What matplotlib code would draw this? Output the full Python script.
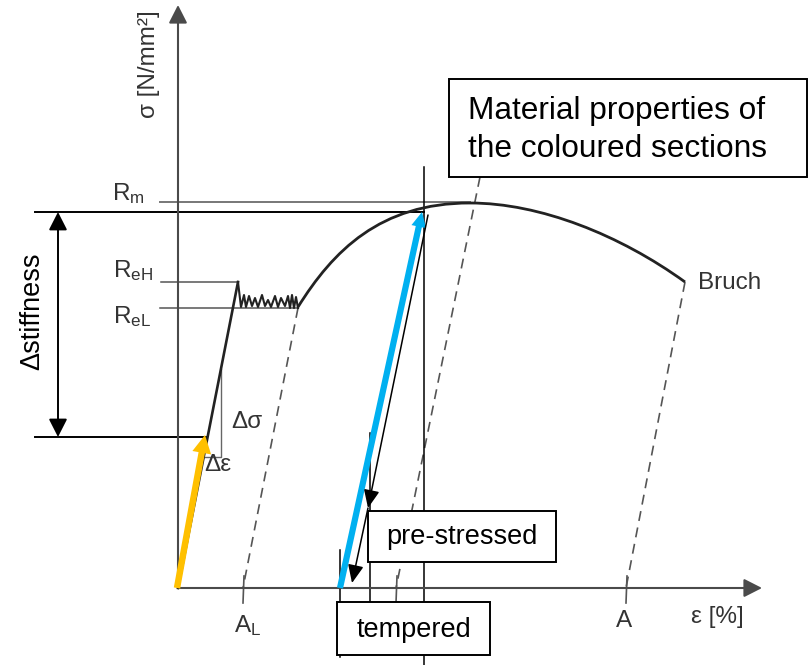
import matplotlib
matplotlib.use("Agg")
import matplotlib.pyplot as plt
from matplotlib.patches import FancyArrowPatch, Rectangle, PathPatch, ArrowStyle
from matplotlib.path import Path

plt.rcParams['font.family'] = ['Liberation Sans', 'DejaVu Sans']
plt.rcParams['mathtext.default'] = 'regular'

# ---- schematic stress-strain values (strain units, stress units) ----
R_M = 385          # tensile strength (curve maximum)
R_EH = 306         # upper yield strength
R_EL = 280         # lower yield strength
STIFF_TOP = 376    # upper level of the stiffness span
STIFF_BOT = 151    # lower level of the stiffness span
A_L = 65           # Lüders strain
A_BREAK = 448      # elongation after fracture
BREAK = (507, 306) # fracture point

# elastic line up to upper yield point
elastic_eps = [0, 60]
elastic_sig = [0, R_EH]

# serrated yield plateau
yield_eps = [60, 63, 66, 68, 71, 74, 77, 80, 84, 87, 90, 93, 97, 100, 103, 107,
             110, 112, 114, 116, 118, 120]
yield_sig = [306, 281, 293, 281, 292, 282, 290, 281, 293, 282, 288, 281, 292, 281,
             290, 282, 292, 280, 293, 280, 291, 280]

# hardening curve (cubic Bezier control points) up to Rm and down to fracture
harden_ctrl = [(120, 281), (155, 337), (202, 385), (292, 385)]
necking_ctrl = [(292, 385), (362, 385), (442, 353), (507, 306)]

# unloading lines (dashed)
unload_lines = [((120, 280), (A_L, 0)),
                ((302, 411), (218, 0)),
                (BREAK, (A_BREAK, 0))]

# coloured sections
yellow_arrow = ((-1, 0), (27, 153))
blue_arrow = ((162, 0), (244, 376))
# unloading path arrows
unload_arrow_1 = ((250, 373), (190, 80))
unload_arrow_2 = ((190, 80), (174, 5))

# vertical marker lines
markers = [(246, 421, -77), (192, 155, -14), (162, 38, -69)]

fig = plt.figure(figsize=(8.12, 6.65), dpi=100)
ax = fig.add_axes([0, 0, 1, 1])
ax.set_xlim(-178, 634)
ax.set_ylim(-77, 588)
ax.axis('off')

AX_COL = '#4a4a4a'
LBL_COL = '#333333'
GREY = '#555555'
FS = 17.5


def arrow(p0, p1, style, color, lw=1.2, ms=20, z=3):
    ax.add_patch(FancyArrowPatch(p0, p1, arrowstyle=style, mutation_scale=ms,
                                 color=color, lw=lw, shrinkA=0, shrinkB=0,
                                 zorder=z))


def thick_arrow(p0, p1, color, width, head_w, head_l):
    (x0, y0), (x1, y1) = p0, p1
    ax.arrow(x0, y0, x1 - x0, y1 - y0, width=width, head_width=head_w,
             head_length=head_l, length_includes_head=True, color=color,
             lw=0, zorder=4)


# axes with arrow heads
head = ArrowStyle('-|>', head_length=0.55, head_width=0.28)
arrow((0, 0), (0, 583), head, AX_COL, lw=1.5)
arrow((0, 0), (584, 0), head, AX_COL, lw=1.5)
ax.text(-29, 524, 'σ [N/mm²]', rotation=90, ha='center', va='center',
        fontsize=FS, color=LBL_COL)
ax.text(539, -29, 'ε [%]', ha='center', va='center', fontsize=FS, color=LBL_COL)

# reference levels
ax.plot([-18, 292], [R_M + 1, R_M + 1], color='#777777', lw=1.4, zorder=2)
ax.plot([-17, 60], [R_EH, R_EH], color=GREY, lw=1.1, zorder=2)
ax.plot([-18, 120], [R_EL, R_EL], color=GREY, lw=1.1, zorder=2)
ax.text(-50, 394, r'$\mathregular{R_m}$', ha='center', va='center',
        fontsize=FS, color=LBL_COL)
ax.text(-45, 317, r'$\mathregular{R_{eH}}$', ha='center', va='center',
        fontsize=FS, color=LBL_COL)
ax.text(-46, 271, r'$\mathregular{R_{eL}}$', ha='center', va='center',
        fontsize=FS, color=LBL_COL)

# stiffness span
ax.plot([-143, 246], [STIFF_TOP, STIFF_TOP], color='black', lw=1.4, zorder=2)
ax.plot([-143, 29], [STIFF_BOT, STIFF_BOT], color='black', lw=1.4, zorder=2)
arrow((-120, STIFF_BOT), (-120, STIFF_TOP),
      ArrowStyle('<|-|>', head_length=0.55, head_width=0.28), 'black', lw=1.4)
ax.text(-146, 277, 'Δstiffness', rotation=90, ha='center', va='center',
        fontsize=19.5, color='black')

# stress-strain curve
ax.plot(elastic_eps, elastic_sig, color='#222222', lw=1.9, zorder=3)
ax.plot(yield_eps, yield_sig, color='#222222', lw=1.5, zorder=3)
for ctrl in (harden_ctrl, necking_ctrl):
    ax.add_patch(PathPatch(Path(ctrl, [Path.MOVETO, Path.CURVE4, Path.CURVE4,
                                       Path.CURVE4]),
                           fill=False, edgecolor='#222222', lw=2.0, zorder=3))
ax.text(520, 305, 'Bruch', ha='left', va='center', fontsize=FS, color=LBL_COL)

# slope triangle
ax.plot([26, 43, 43], [131, 131, 219], color='#666666', lw=1.0, zorder=2)
ax.text(69, 166, 'Δσ', ha='center', va='center', fontsize=FS, color=LBL_COL)
ax.text(40, 123, 'Δε', ha='center', va='center', fontsize=FS, color=LBL_COL)

# unloading lines and strain marks
for (x0, y0), (x1, y1) in unload_lines:
    ax.plot([x0, x1], [y0, y1], color=GREY, lw=1.2, ls=(0, (6, 4)), zorder=2)
for xm in (A_L, 218, A_BREAK):
    ax.plot([xm + 1, xm], [12, -15], color=GREY, lw=1.2, zorder=2)
ax.text(70, -38, r'$\mathregular{A_L}$', ha='center', va='center',
        fontsize=FS, color=LBL_COL)
ax.text(446, -33, 'A', ha='center', va='center', fontsize=FS, color=LBL_COL)

# vertical marker lines
for xm, ytop, ybot in markers:
    ax.plot([xm, xm], [ytop, ybot], color='black', lw=1.1, zorder=2)

# coloured sections
thick_arrow(*yellow_arrow, '#FFC000', 6.5, 19, 18)
thick_arrow(*blue_arrow, '#00B0F0', 6.2, 15, 15)

# unloading path
thin_head = ArrowStyle('-|>', head_length=0.55, head_width=0.24)
arrow(*unload_arrow_1, thin_head, 'black', lw=1.1, z=4)
arrow(*unload_arrow_2, thin_head, 'black', lw=1.1, z=4)

# annotation boxes
boxes = [((190, 26), 188, 51, 'pre-stressed', (284, 51), 19.5),
         ((159, -67), 153, 53, 'tempered', (236, -42), 19.5)]
for (x, y), w, h, label, (tx, ty), fs in boxes:
    ax.add_patch(Rectangle((x, y), w, h, facecolor='white', edgecolor='black',
                           lw=1.4, zorder=5))
    ax.text(tx, ty, label, ha='center', va='center', fontsize=fs, zorder=6)

ax.add_patch(Rectangle((271, 411), 358, 98, facecolor='white',
                       edgecolor='black', lw=1.4, zorder=5))
ax.text(290, 477, 'Material properties of', ha='left', va='center',
        fontsize=22.8, zorder=6)
ax.text(290, 439, 'the coloured sections', ha='left', va='center',
        fontsize=22.8, zorder=6)

fig.savefig('out.png', dpi=100)
